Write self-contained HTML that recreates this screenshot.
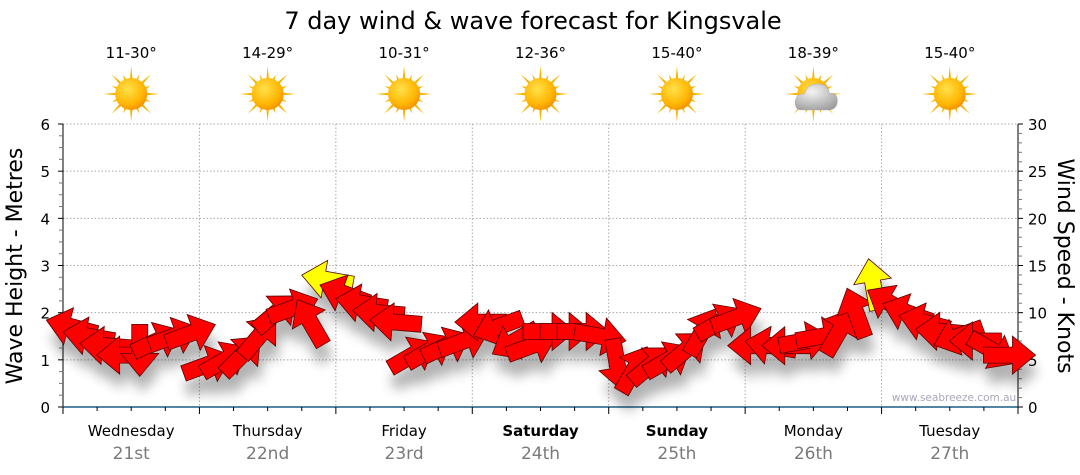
<!DOCTYPE html>
<html><head><meta charset="utf-8"><style>
html,body{margin:0;padding:0;background:#fff}
svg{display:block}
text{font-family:"DejaVu Sans","Liberation Sans",sans-serif}
</style></head><body>
<svg id="chart" width="1080" height="475" xmlns="http://www.w3.org/2000/svg">
<defs>
<filter id="shadow" x="-50%" y="-50%" width="200%" height="200%"><feGaussianBlur stdDeviation="6"/></filter>
<radialGradient id="sunG" cx="40%" cy="35%" r="70%"><stop offset="0" stop-color="#ffe14a"/><stop offset="0.7" stop-color="#ffb400"/><stop offset="1" stop-color="#f08c00"/></radialGradient>
<radialGradient id="cloudG" cx="40%" cy="30%" r="80%"><stop offset="0" stop-color="#f4f4f4"/><stop offset="1" stop-color="#9a9a9a"/></radialGradient>
</defs>
<text x="533" y="29" font-size="24" text-anchor="middle" fill="#000">7 day wind &amp; wave forecast for Kingsvale</text>
<g id="grid"></g>
<g id="axes"></g>
<g id="icons"></g>
<g id="shadows" filter="url(#shadow)" opacity="0.3"></g>
<g id="arrows"></g>
<text transform="translate(22,266) rotate(-90)" font-size="22" text-anchor="middle">Wave Height - Metres</text>
<text transform="translate(1058,266) rotate(90)" font-size="22" text-anchor="middle">Wind Speed - Knots</text>
<text x="954" y="401" font-size="10.5" text-anchor="middle" fill="#a8a8b8">www.seabreeze.com.au</text>
</svg>
<script>
const days=["Wednesday","Thursday","Friday","Saturday","Sunday","Monday","Tuesday"];
const dates=["21st","22nd","23rd","24th","25th","26th","27th"];
const boldDays=[false,false,false,true,true,false,false];
const temps=["11-30°","14-29°","10-31°","12-36°","15-40°","18-39°","15-40°"];
const icons=["sun","sun","sun","sun","sun","cloud","sun"];
const leftTicks=[0,1,2,3,4,5,6];
const rightTicks=[0,5,10,15,20,25,30];
// wind speed (knots), 3-hourly, 8 per day
const windKnots=[8.5,7.5,6.5,5.5,6,7,7.5,7.8, 4.5,5,5.5,7.5,10,10.5,9,13.5, 12,11,10,9,5.5,6,6.5,7, 9,8.5,7,6.5,8,8,8,7.5, 4.5,4,4.5,5,6,8,9,9.5, 6.5,6.5,6.5,7,7.5,8,10,13, 11,10,9,8,7.5,7,6,5.5];
// arrow heading in degrees (0 = right, 90 = up)
const windDir=[165,170,175,180,-90,25,20,20, 20,30,45,50,40,20,120,170, 160,170,175,175,30,30,25,20, 180,200,210,20,0,0,0,-10, -80,60,40,30,40,60,30,20, 180,170,180,10,10,60,110,100, 150,160,165,175,200,180,-30,0];

const NS="http://www.w3.org/2000/svg";
const X0=63,X1=1018,Y0=407,Y1=124;
const dayW=(X1-X0)/7;
const xT=t=>X0+t*dayW;
const yM=m=>Y0-(m/6)*(Y0-Y1);
const yK=k=>Y0-(k/30)*(Y0-Y1);
function mk(tag,attrs,parent){const e=document.createElementNS(NS,tag);for(const k in attrs)e.setAttribute(k,attrs[k]);parent.appendChild(e);return e;}
const grid=document.getElementById('grid'),axes=document.getElementById('axes'),ic=document.getElementById('icons');

leftTicks.forEach(v=>{ if(v>0){const l=mk('line',{x1:X0,x2:X1,y1:yM(v),y2:yM(v),stroke:'#aaa','stroke-dasharray':'1.5,2'},grid);
  
  }});
for(let d=1;d<7;d++){const l=mk('line',{x1:xT(d),x2:xT(d),y1:Y1,y2:Y0,stroke:'#aaa','stroke-dasharray':'1.5,2'},grid);
  
  }

mk('line',{x1:X0,x2:X0,y1:Y1,y2:Y0,stroke:'#000'},axes);
leftTicks.forEach(v=>{mk('line',{x1:X0-5,x2:X0,y1:yM(v),y2:yM(v),stroke:'#000'},axes);
  const t=mk('text',{x:X0-13,y:yM(v)+6,'font-size':15,'text-anchor':'end'},axes);t.textContent=v;
  
  });
for(let v=0;v<6;v+=0.25){if(v%1)mk('line',{x1:X0-4,x2:X0,y1:yM(v),y2:yM(v),stroke:'#777'},axes);}
mk('line',{x1:X1,x2:X1,y1:Y1,y2:Y0,stroke:'#000'},axes);
rightTicks.forEach(v=>{mk('line',{x1:X1,x2:X1+5,y1:yK(v),y2:yK(v),stroke:'#000'},axes);
  const t=mk('text',{x:X1+10,y:yK(v)+6,'font-size':15},axes);t.textContent=v;
  
  });
for(let v=0;v<30;v+=1){if(v%5)mk('line',{x1:X1,x2:X1+4,y1:yK(v),y2:yK(v),stroke:'#777'},axes);}
mk('line',{x1:X0,x2:X1,y1:Y0,y2:Y0,stroke:'#1c5c86','stroke-width':1.5},axes);
for(let i=0;i<=28;i++){const x=xT(i/4);mk('line',{x1:x,x2:x,y1:Y0,y2:Y0+(i%4?4:7),stroke:'#000'},axes);}
days.forEach((d,i)=>{const cx=xT(i+0.5);
  const t=mk('text',{x:cx,y:436,'font-size':15,'text-anchor':'middle','font-weight':boldDays[i]?'bold':'normal'},axes);t.textContent=d;
  
  
  const t2=mk('text',{x:cx,y:459,'font-size':17,'text-anchor':'middle',fill:'#7a7a7a'},axes);t2.textContent=dates[i];
  
  
  const t3=mk('text',{x:cx,y:58,'font-size':15,'text-anchor':'middle'},ic);t3.textContent=temps[i];
  
  
  const g=mk('g',{transform:`translate(${cx},94)`},ic);
  
  
  for(let r=0;r<16;r++){const a=r*Math.PI/8,L=r%2?21:28;
    mk('polygon',{points:`${Math.cos(a-0.1)*14},${Math.sin(a-0.1)*14} ${Math.cos(a)*L},${Math.sin(a)*L} ${Math.cos(a+0.1)*14},${Math.sin(a+0.1)*14}`,fill:'#f5b400'},g);}
  mk('circle',{r:16,fill:'url(#sunG)'},g);
  if(icons[i]==='cloud'){mk('path',{d:'M-12,16 Q-19,16 -18,7 Q-17,-1 -9,0 Q-6,-11 6,-10 Q14,-10 16,-1 Q25,-1 24,8 Q23,16 15,16 Z',fill:'url(#cloudG)',stroke:'#aaa','stroke-width':0.5},g);}
});

const sh=document.getElementById('shadows'),ar=document.getElementById('arrows');
const arrowPts="26,0 3,-19 3,-8 -26,-8 -26,8 3,8 3,19";
windKnots.forEach((k,i)=>{
  const x=xT((i+0.5)/8),y=yK(k),a=-windDir[i];
  mk('polygon',{points:arrowPts,transform:`translate(${x+3},${y+16}) rotate(${a})`,fill:'#000'},sh);
  const p=mk('polygon',{points:arrowPts,transform:`translate(${x},${y}) rotate(${a})`,fill:k>=12.5?'#ffff00':'#ff0000',stroke:'#5a0000','stroke-width':0.8,'stroke-linejoin':'miter'},ar);
  
  
});
</script>
</body></html>
